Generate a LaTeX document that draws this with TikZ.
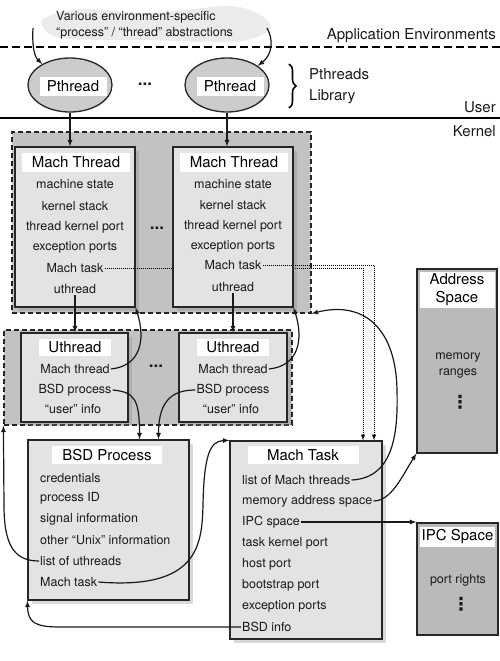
\documentclass[tikz,border=0pt]{standalone}
\usepackage{fontspec}
\setmainfont{TeX Gyre Heros}
\newfontfamily\dotsfont{DejaVu Sans}
\usetikzlibrary{shapes.geometric,shadows,decorations.pathreplacing}

\begin{document}
\begin{tikzpicture}[x=1pt,y=-1pt,
	mbox/.style={draw=black!85, line width=1.3pt, fill=black!11, drop shadow={shadow xshift=4pt, shadow yshift=-4pt, opacity=0.3}},
	sbox/.style={draw=black!85, line width=1.3pt, fill=black!27},
	gbox/.style={draw=black!85, line width=1.2pt, dash pattern=on 5pt off 3pt, fill=black!24},
	tbox/.style={fill=white, inner sep=1pt, font=\fontsize{15}{18}\selectfont},
	itm/.style={inner sep=1pt, text=black!90, font=\fontsize{12.5}{15}\selectfont},
	lbl/.style={inner sep=1pt, text=black!90, font=\fontsize{15}{21}\selectfont},
	hdots/.style={inner sep=0pt, text=black!90, font=\fontsize{17}{17}\selectfont\bfseries},
	vdotsn/.style={inner sep=0pt, text=black!90, font=\dotsfont\bfseries\fontsize{18}{18}\selectfont},
	conn/.style={-latex, line width=1.2pt, black!90}]
	\useasboundingbox (0,0) rectangle (500,661);
	% top of the picture
	\fill[black!8] plot[smooth cycle] coordinates {(42,20) (80,9) (150,13) (230,6) (262,16) (270,30) (235,42) (150,40) (60,38)};
	\node[itm, anchor=west, align=left, font=\fontsize{12.5}{16}\selectfont] (abs) at (55,25) {Various environment-specific\\“process” / “thread” abstractions};
	\coordinate (absL) at (33,28);
	\coordinate (absR) at (267,28);
	\node[lbl, anchor=east] (appenv) at (497,36) {Application Environments};
	\draw[line width=2.5pt, dash pattern=on 8pt off 4pt] (0,47) -- (500,47);
	\node (p1) at (70,85) [ellipse, draw=black!85, line width=1.3pt, fill=black!20, minimum width=84pt, minimum height=54pt] {};
	\node (p2) at (227,85) [ellipse, draw=black!85, line width=1.3pt, fill=black!20, minimum width=84pt, minimum height=54pt] {};
	\node[tbox, minimum width=67pt, minimum height=19pt] (p1t) at (73,86) {Pthread};
	\node[tbox, minimum width=67pt, minimum height=19pt] (p2t) at (230,86) {Pthread};
	\node[hdots] (pdots) at (145,84) {...};
	\draw[decorate, decoration={brace, amplitude=7pt}, line width=1.6pt] (289,64) -- (289,108);
	\node[lbl, anchor=west, align=left] (plib) at (308,86) {Pthreads\\Library};
	\node[lbl, anchor=east] (user) at (497,107) {User};
	\draw[line width=2.5pt] (0,118) -- (500,118);
	\node[lbl, anchor=east] (kernel) at (497,131) {Kernel};
	\draw[conn] (absL) .. controls (32,45) and (34,56) .. (p1.143);
	\draw[conn] (absR) .. controls (274,40) and (272,55) .. (p2.32);
	% groups
	\node[gbox, minimum width=299pt, minimum height=181pt] (mtg) at (161.5,222.5) {};
	\node[gbox, minimum width=288pt, minimum height=95pt] (ug) at (148,377.5) {};
	% BSD process
	\node[mbox, minimum width=161pt, minimum height=160pt] (bsd) at (108.5,520) {};
	\node[tbox, minimum width=110pt, minimum height=18pt] (bsdt) at (107,455) {BSD Process};
	\node[itm, anchor=west] (bsdcred) at (39,478) {credentials};
	\node[itm, anchor=west] (bsdpid) at (39,498) {process ID};
	\node[itm, anchor=west] (bsdsig) at (39,519) {signal information};
	\node[itm, anchor=west] (bsdunix) at (39,540) {other “Unix” information};
	\node[itm, anchor=west] (bsdlist) at (39,561) {list of uthreads};
	\node[itm, anchor=west] (bsdtask) at (39,582) {Mach task};
	% Mach task
	\node[mbox, minimum width=152pt, minimum height=198pt] (mtask) at (306,540) {};
	\node[tbox, minimum width=111pt, minimum height=18pt] (mtaskt) at (303,455) {Mach Task};
	\node[itm, anchor=west] (mtlist) at (241,480) {list of Mach threads};
	\node[itm, anchor=west] (mtmem) at (241,501) {memory address space};
	\node[itm, anchor=west] (mtipc) at (241,522) {IPC space};
	\node[itm, anchor=west] (mtkport) at (241,543) {task kernel port};
	\node[itm, anchor=west] (mthost) at (241,564) {host port};
	\node[itm, anchor=west] (mtboot) at (241,585) {bootstrap port};
	\node[itm, anchor=west] (mtexc) at (241,606) {exception ports};
	\node[itm, anchor=west] (mtbsd) at (241,627) {BSD info};
	% address space and IPC space
	\node[sbox, minimum width=80pt, minimum height=184pt] (addr) at (457,361) {};
	\node[tbox, align=center, minimum width=75pt, minimum height=36pt] (addrt) at (457,290) {Address\\Space};
	\node[itm, align=center, font=\fontsize{12.5}{16}\selectfont] (addrmem) at (458,365) {memory\\ranges};
	\node[vdotsn] (addrdots) at (460,402) {⋮};
	\node[sbox, minimum width=81pt, minimum height=112pt] (ipc) at (457.5,579) {};
	\node[tbox, minimum width=75pt, minimum height=20pt] (ipct) at (457.5,537) {IPC Space};
	\node[itm] (ipcrights) at (458,580) {port rights};
	\node[vdotsn] (ipcdots) at (461,604) {⋮};
	% Mach threads
	\node[mbox, minimum width=120pt, minimum height=160pt] (mt1) at (75,227) {};
	\node[tbox, minimum width=108pt, minimum height=19pt] (mt1t) at (76,162) {Mach Thread};
	\node[itm] (mt1state) at (75,184) {machine state};
	\node[itm] (mt1stack) at (75,206) {kernel stack};
	\node[itm] (mt1port) at (75,227) {thread kernel port};
	\node[itm] (mt1exc) at (75,247) {exception ports};
	\node[itm] (mt1task) at (75,268) {Mach task};
	\node[itm] (mt1uth) at (75,289) {uthread};
	\draw[densely dotted, line width=1pt, -latex] (mt1task.east) -| ([xshift=57pt]mtask.north);
	\node[hdots] (mtdots) at (157,228) {...};
	\node[mbox, minimum width=120pt, minimum height=160pt] (mt2) at (233,227) {};
	\node[tbox, minimum width=108pt, minimum height=19pt] (mt2t) at (234,162) {Mach Thread};
	\node[itm] (mt2state) at (233,184) {machine state};
	\node[itm] (mt2stack) at (233,205) {kernel stack};
	\node[itm] (mt2port) at (233,226) {thread kernel port};
	\node[itm] (mt2exc) at (233,246) {exception ports};
	\node[itm] (mt2task) at (233,265) {Mach task};
	\node[itm] (mt2uth) at (233,287) {uthread};
	\draw[densely dotted, line width=1pt, -latex] (mt2task.east) -| ([xshift=68pt]mtask.north);
	% uthreads
	\node[mbox, minimum width=107pt, minimum height=89pt] (u1) at (74.5,377.5) {};
	\node[tbox, minimum width=72pt, minimum height=17pt] (u1t) at (75,347) {Uthread};
	\node[itm] (u1mth) at (75,369) {Mach thread};
	\node[itm] (u1bsd) at (75,390) {BSD process};
	\node[itm] (u1info) at (73,409) {“user” info};
	\node[hdots] (udots) at (156,366) {...};
	\node[mbox, minimum width=108pt, minimum height=89pt] (u2) at (233,377.5) {};
	\node[tbox, minimum width=72pt, minimum height=17pt] (u2t) at (233,347) {Uthread};
	\node[itm] (u2mth) at (233,369) {Mach thread};
	\node[itm] (u2bsd) at (233,390) {BSD process};
	\node[itm] (u2info) at (231,409) {“user” info};
	% connectors
	\draw[conn] (p1.south) -- (p1.south |- mt1.north);
	\draw[conn] (p2.south) -- (p2.south |- mt2.north);
	\draw[conn] (mt1uth.south) -- (mt1uth.south |- u1.north);
	\draw[conn] (mt2uth.south) -- (mt2uth.south |- u2.north);
	\draw[conn] (u1mth.east) .. controls +(30,-3) and +(10,32) .. (mt1.south east);
	\draw[conn] (u2mth.east) .. controls +(30,-3) and +(10,32) .. (mt2.south east);
	\draw[conn] (u1bsd.east) .. controls +(22,2) and +(0,-40) .. ([xshift=31pt]bsd.north);
	\draw[conn] (u2bsd.west) .. controls +(-22,0) and +(0,-40) .. ([xshift=50pt]bsd.north);
	\draw[conn] (mtlist.east) .. controls (395,478) and (398,430) .. (397,390) .. controls (396,330) and (365,300) .. (mtg.south east);
	\draw[conn] (mtmem.east) .. controls +(18,0) and +(-14,22) .. (addr.south west);
	\draw[conn] (mtipc.east) -- (mtipc.east -| ipc.west);
	\draw[conn] (mtbsd.west) -- (60,627) .. controls (34,627) and (28,622) .. (bsd.south west);
	\draw[conn] (bsdtask.east) .. controls (198,590) and (202,545) .. (203,505) .. controls (204,455) and (210,441) .. (mtask.north west);
	\draw[conn] (bsdlist.west) .. controls (14,561) and (4,545) .. (4,505) -- (ug.south west);
\end{tikzpicture}
\end{document}
